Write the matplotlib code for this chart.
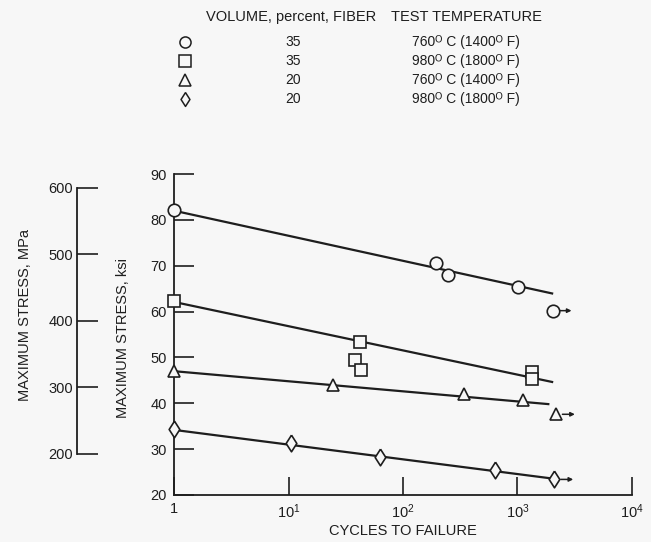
import matplotlib
matplotlib.use("Agg")
import matplotlib.pyplot as plt
from matplotlib.lines import Line2D
from matplotlib.ticker import NullLocator
from matplotlib import font_manager

# ---- fonts -------------------------------------------------------------
available = {f.name for f in font_manager.fontManager.ttflist}
BASE_FONT = "Liberation Sans Narrow" if "Liberation Sans Narrow" in available else "Liberation Sans"
plt.rcParams["font.family"] = [BASE_FONT, "DejaVu Sans"]
plt.rcParams["mathtext.fontset"] = "custom"
plt.rcParams["mathtext.rm"] = BASE_FONT
plt.rcParams["mathtext.it"] = BASE_FONT
plt.rcParams["mathtext.bf"] = BASE_FONT

# ---- data --------------------------------------------------------------
KSI_TO_MPA = 6.895

# 35 vol% fiber, 760 C
c35_760_cycles = [1, 195, 247, 1020]
c35_760_stress = [82.2, 70.5, 68.0, 65.4]
c35_760_runout_cycles = [2030]
c35_760_runout_stress = [60.2]
c35_760_fit_cycles = [1, 2050]
c35_760_fit_stress = [82.0, 63.9]

# 35 vol% fiber, 980 C
c35_980_cycles = [1, 42, 38, 43, 1340, 1340]
c35_980_stress = [62.2, 53.4, 49.4, 47.3, 46.9, 45.3]
c35_980_fit_cycles = [1, 2050]
c35_980_fit_stress = [62.1, 44.6]

# 20 vol% fiber, 760 C
c20_760_cycles = [1, 24.5, 340, 1110]
c20_760_stress = [47.0, 43.9, 42.0, 40.7]
c20_760_runout_cycles = [2170]
c20_760_runout_stress = [37.6]
c20_760_fit_cycles = [1, 1900]
c20_760_fit_stress = [47.0, 39.8]

# 20 vol% fiber, 980 C
c20_980_cycles = [1, 10.6, 62.5, 641]
c20_980_stress = [34.3, 31.3, 28.2, 25.4]
c20_980_runout_cycles = [2100]
c20_980_runout_stress = [23.4]
c20_980_fit_cycles = [1, 2000]
c20_980_fit_stress = [34.2, 23.6]

# legend table
volume_pct = [35, 35, 20, 20]
temp_c = [760, 980, 760, 980]
temp_f = [1400, 1800, 1400, 1800]

x_ticks = [1, 10, 100, 1000, 10000]
x_tick_labels = ["1", r"$\mathrm{10^{1}}$", r"$\mathrm{10^{2}}$", r"$\mathrm{10^{3}}$", r"$\mathrm{10^{4}}$"]
ksi_ticks = [20, 30, 40, 50, 60, 70, 80, 90]
mpa_ticks = [200, 300, 400, 500, 600]

# ---- style -------------------------------------------------------------
BG = "#f7f7f7"
INK = "#1e1e1e"
FS = 10.5
FS_LEG = 10
W, H = 651, 542
DEG = "\u1d3c"  # raised capital O used as the degree sign

# narrow open diamond used for the 20 %, 980 C specimens
DIAMOND = [(0, 1), (0.64, 0), (0, -1), (-0.64, 0), (0, 1)]

fig = plt.figure(figsize=(W / 100, H / 100), dpi=100, facecolor=BG)


def px(x, y):
    """Figure fraction from pixel position (origin top-left)."""
    return x / W, 1 - y / H


left, bottom = px(174, 495)
right, top = px(632, 174)
ax = fig.add_axes([left, bottom, right - left, top - bottom])
ax.set_facecolor("none")
ax.set_xscale("log")
ax.set_xlim(1, 1e4)
ax.set_ylim(20, 90)
for s in ("top", "right"):
    ax.spines[s].set_visible(False)
for s in ("left", "bottom"):
    ax.spines[s].set_linewidth(1.3)
    ax.spines[s].set_color(INK)
ax.spines["left"].set_zorder(1)

ax.set_xticks(x_ticks)
ax.set_xticklabels(x_tick_labels)
ax.xaxis.set_minor_locator(NullLocator())
ax.set_yticks(ksi_ticks)
ax.set_yticklabels([str(v) for v in ksi_ticks])
ax.tick_params(axis="x", direction="in", length=13, width=1.2, color=INK,
               labelsize=FS, pad=5, labelcolor=INK)
ax.tick_params(axis="y", direction="in", length=14.5, width=1.2, color=INK,
               labelsize=FS, pad=5, labelcolor=INK)

marker_kw = dict(linestyle="none", markerfacecolor=BG, markeredgecolor=INK,
                 markeredgewidth=1.2, zorder=4, clip_on=False)
line_kw = dict(color=INK, linewidth=1.6, zorder=2, solid_capstyle="butt")

series = [
    ("o", 9.0, c35_760_cycles, c35_760_stress, c35_760_fit_cycles, c35_760_fit_stress,
     c35_760_runout_cycles, c35_760_runout_stress),
    ("s", 8.0, c35_980_cycles, c35_980_stress, c35_980_fit_cycles, c35_980_fit_stress,
     [], []),
    ("^", 8.5, c20_760_cycles, c20_760_stress, c20_760_fit_cycles, c20_760_fit_stress,
     c20_760_runout_cycles, c20_760_runout_stress),
    (DIAMOND, 12.0, c20_980_cycles, c20_980_stress, c20_980_fit_cycles, c20_980_fit_stress,
     c20_980_runout_cycles, c20_980_runout_stress),
]

for mk, ms, cx, cy, fx, fy, rx, ry in series:
    ax.plot(fx, fy, **line_kw)
    ax.plot(cx, cy, marker=mk, markersize=ms, **marker_kw)
    if rx:
        ax.plot(rx, ry, marker=mk, markersize=ms, **marker_kw)
        for x0, y0 in zip(rx, ry):
            # run-out arrow: specimen had not failed
            ax.annotate("", xy=(x0 * 1.46, y0), xytext=(x0, y0),
                        arrowprops=dict(arrowstyle="-|>", color=INK, lw=1.1,
                                        shrinkA=4.6, shrinkB=0, mutation_scale=6),
                        zorder=3)

# secondary stress scale in MPa
mx, _ = px(77, 0)
ax_m = fig.add_axes([mx, bottom, 0.01, top - bottom])
ax_m.set_facecolor("none")
ax_m.set_ylim(20 * KSI_TO_MPA, 90 * KSI_TO_MPA)
for s in ("top", "right", "bottom"):
    ax_m.spines[s].set_visible(False)
ax_m.spines["left"].set_bounds(mpa_ticks[0], mpa_ticks[-1])
ax_m.spines["left"].set_linewidth(1.3)
ax_m.spines["left"].set_color(INK)
ax_m.set_xticks([])
ax_m.set_yticks(mpa_ticks)
ax_m.set_yticklabels([str(v) for v in mpa_ticks])
ax_m.tick_params(axis="y", direction="in", length=15, width=1.2, color=INK,
                 labelsize=FS, pad=3, labelcolor=INK)

# axis titles
fig.text(*px(123, 338), "MAXIMUM STRESS, ksi", rotation=90, ha="center", va="center",
         fontsize=FS, color=INK)
fig.text(*px(25, 315), "MAXIMUM STRESS, MPa", rotation=90, ha="center", va="center",
         fontsize=FS, color=INK)
fig.text(*px(403, 531), "CYCLES TO FAILURE", ha="center", va="center",
         fontsize=FS, color=INK)

# legend table
fig.text(*px(291, 17), "VOLUME, percent, FIBER", ha="center", va="center",
         fontsize=FS, color=INK)
fig.text(*px(466, 17), "TEST TEMPERATURE", ha="center", va="center",
         fontsize=FS, color=INK)
legend_markers = ["o", "s", "^", DIAMOND]
legend_ms = [8.0, 8.0, 8.5, 10.0]
row_y = [42, 61, 80, 99]
for mk, ms, vol, tc, tf, yy in zip(legend_markers, legend_ms, volume_pct, temp_c, temp_f, row_y):
    mxp, myp = px(185, yy)
    fig.add_artist(Line2D([mxp], [myp], marker=mk, markersize=ms, linestyle="none",
                          markerfacecolor=BG, markeredgecolor=INK, markeredgewidth=1.1,
                          transform=fig.transFigure))
    fig.text(*px(293, yy), str(vol), ha="center", va="center", fontsize=FS_LEG, color=INK)
    fig.text(*px(466, yy), f"{tc}{DEG} C ({tf}{DEG} F)",
             ha="center", va="center", fontsize=FS_LEG, color=INK)

fig.savefig("out.png", dpi=100, facecolor=BG)
